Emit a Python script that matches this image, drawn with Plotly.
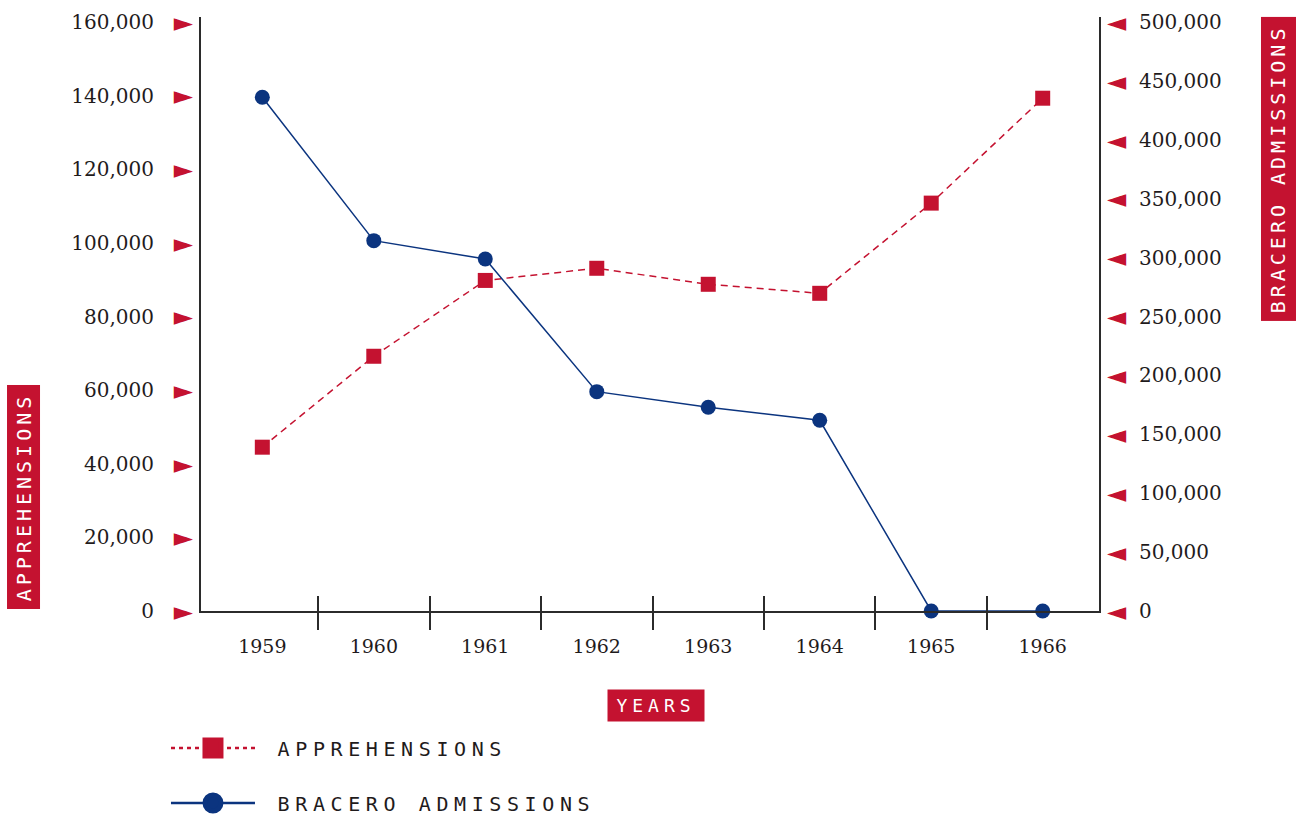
import plotly.graph_objects as go

# ---------------- data ----------------
years = [1959, 1960, 1961, 1962, 1963, 1964, 1965, 1966]
apprehensions = [44500, 69200, 89800, 93100, 88750, 86300, 110800, 139300]
bracero_admissions = [436100, 314400, 298800, 186200, 172900, 161900, 0, 0]

left_ticks = [0, 20000, 40000, 60000, 80000, 100000, 120000, 140000, 160000]
left_tick_labels = ["0", "20,000", "40,000", "60,000", "80,000", "100,000",
                    "120,000", "140,000", "160,000"]
right_ticks = [0, 50000, 100000, 150000, 200000, 250000, 300000, 350000,
               400000, 450000, 500000]
right_tick_labels = ["0", "50,000", "100,000", "150,000", "200,000", "250,000",
                     "300,000", "350,000", "400,000", "450,000", "500,000"]
year_dividers = [1959.5, 1960.5, 1961.5, 1962.5, 1963.5, 1964.5, 1965.5]

# ---------------- style ----------------
RED = "#C41230"
NAVY = "#0B347F"
AXIS = "#2b2b2b"
TXT = "#1f1b1c"
NUMFONT = dict(family="DejaVu Serif", size=20, color=TXT)
MONO = "DejaVu Sans Mono"

XR = [1958.45, 1966.505]
YL = [0, 161360]
YR = [0, 504240]


def spaced(t, px):
    return "<span style='letter-spacing:%spx'>%s</span>" % (px, t)


fig = go.Figure()

# dummy traces so overlay axes render
fig.add_trace(go.Scatter(x=[None], y=[None], xaxis="x2", yaxis="y",
                         showlegend=False, hoverinfo="skip"))
fig.add_trace(go.Scatter(x=[None], y=[None], xaxis="x", yaxis="y3",
                         showlegend=False, hoverinfo="skip"))
fig.add_trace(go.Scatter(x=[None], y=[None], xaxis="x", yaxis="y4",
                         showlegend=False, hoverinfo="skip"))

fig.add_trace(go.Scatter(
    x=years, y=apprehensions, mode="lines+markers", yaxis="y",
    line=dict(color=RED, width=1.5, dash="7px,5px"),
    marker=dict(symbol="square", size=15, color=RED),
    showlegend=False, cliponaxis=False))
fig.add_trace(go.Scatter(
    x=years, y=bracero_admissions, mode="lines+markers", yaxis="y2",
    line=dict(color=NAVY, width=1.5),
    marker=dict(symbol="circle", size=15, color=NAVY),
    showlegend=False, cliponaxis=False))

# legend entries
fig.add_trace(go.Scatter(
    x=[None], y=[None], mode="lines+markers",
    name=spaced("\u00a0APPREHENSIONS", 5.6),
    line=dict(color=RED, width=2.5, dash="4px,4px"),
    marker=dict(symbol="square", size=16, color=RED, line=dict(color=RED, width=5)),
    legend="legend"))
fig.add_trace(go.Scatter(
    x=[None], y=[None], mode="lines+markers",
    name=spaced("\u00a0BRACERO ADMISSIONS", 5.6),
    line=dict(color=NAVY, width=2.5),
    marker=dict(symbol="circle", size=16, color=NAVY, line=dict(color=NAVY, width=5)),
    legend="legend2"))

legend_common = dict(xanchor="left", yanchor="middle", bgcolor="rgba(0,0,0,0)",
                     font=dict(family=MONO, size=20, color=TXT), itemwidth=84)

fig.update_layout(
    width=1299, height=815,
    margin=dict(l=201, r=200, t=17, b=204, autoexpand=False),
    paper_bgcolor="white", plot_bgcolor="white",
    xaxis=dict(range=XR, tickmode="array", tickvals=years,
               ticktext=[str(y) for y in years], ticks="",
               ticklabelstandoff=17, tickfont=dict(family="DejaVu Serif", size=19, color=TXT),
               showline=True, linecolor=AXIS, linewidth=2, showgrid=False, zeroline=False,
               minor=dict(tickmode="array", tickvals=year_dividers, ticks="outside",
                          ticklen=17, tickwidth=2, tickcolor=AXIS, showgrid=False)),
    xaxis2=dict(range=XR, overlaying="x", anchor="y", side="bottom",
                tickmode="array", tickvals=year_dividers, ticks="inside",
                ticklen=15, tickwidth=2, tickcolor=AXIS, showticklabels=False,
                showline=False, showgrid=False, zeroline=False),
    yaxis=dict(range=YL, tickmode="array", tickvals=left_ticks, ticktext=left_tick_labels,
               ticks="", ticklabelstandoff=41, tickfont=NUMFONT,
               showline=True, linecolor=AXIS, linewidth=2, showgrid=False, zeroline=False),
    yaxis3=dict(range=YL, overlaying="y", side="left", anchor="x",
                tickmode="array", tickvals=left_ticks, ticktext=["►"] * len(left_ticks),
                ticks="", ticklabelstandoff=7,
                tickfont=dict(family="DejaVu Sans", size=25, color=RED),
                showline=False, showgrid=False, zeroline=False),
    yaxis2=dict(range=YR, overlaying="y", side="right", anchor="x",
                tickmode="array", tickvals=right_ticks, ticktext=right_tick_labels,
                ticks="", ticklabelstandoff=34, tickfont=NUMFONT,
                showline=True, linecolor=AXIS, linewidth=2, showgrid=False, zeroline=False),
    yaxis4=dict(range=YR, overlaying="y", side="right", anchor="x",
                tickmode="array", tickvals=right_ticks, ticktext=["◄"] * len(right_ticks),
                ticks="", ticklabelstandoff=7,
                tickfont=dict(family="DejaVu Sans", size=25, color=RED),
                showline=False, showgrid=False, zeroline=False),
    legend=dict(x=-0.039, y=-0.2306, **legend_common),
    legend2=dict(x=-0.039, y=-0.3232, **legend_common),
    annotations=[
        dict(text=spaced("APPREHENSIONS", 4), xref="paper", yref="paper",
             x=-0.1971, y=0.1911, xanchor="center", yanchor="middle",
             showarrow=False, textangle=-90, bgcolor=RED, width=223, height=32,
             borderpad=0, font=dict(family=MONO, size=20, color="white")),
        dict(text=spaced("BRACERO ADMISSIONS", 4), xref="paper", yref="paper",
             x=1.2004, y=0.745, xanchor="center", yanchor="middle",
             showarrow=False, textangle=-90, bgcolor=RED, width=303, height=34,
             borderpad=0, font=dict(family=MONO, size=20, color="white")),
        dict(text=spaced("YEARS", 5), xref="paper", yref="paper",
             x=0.5067, y=-0.1591, xanchor="center", yanchor="middle",
             showarrow=False, bgcolor=RED, width=96, height=31,
             borderpad=0, font=dict(family=MONO, size=18, color="white")),
    ],
)

fig.write_html("out.html", config={"displayModeBar": False},
               post_script="document.body.style.margin='0';")
